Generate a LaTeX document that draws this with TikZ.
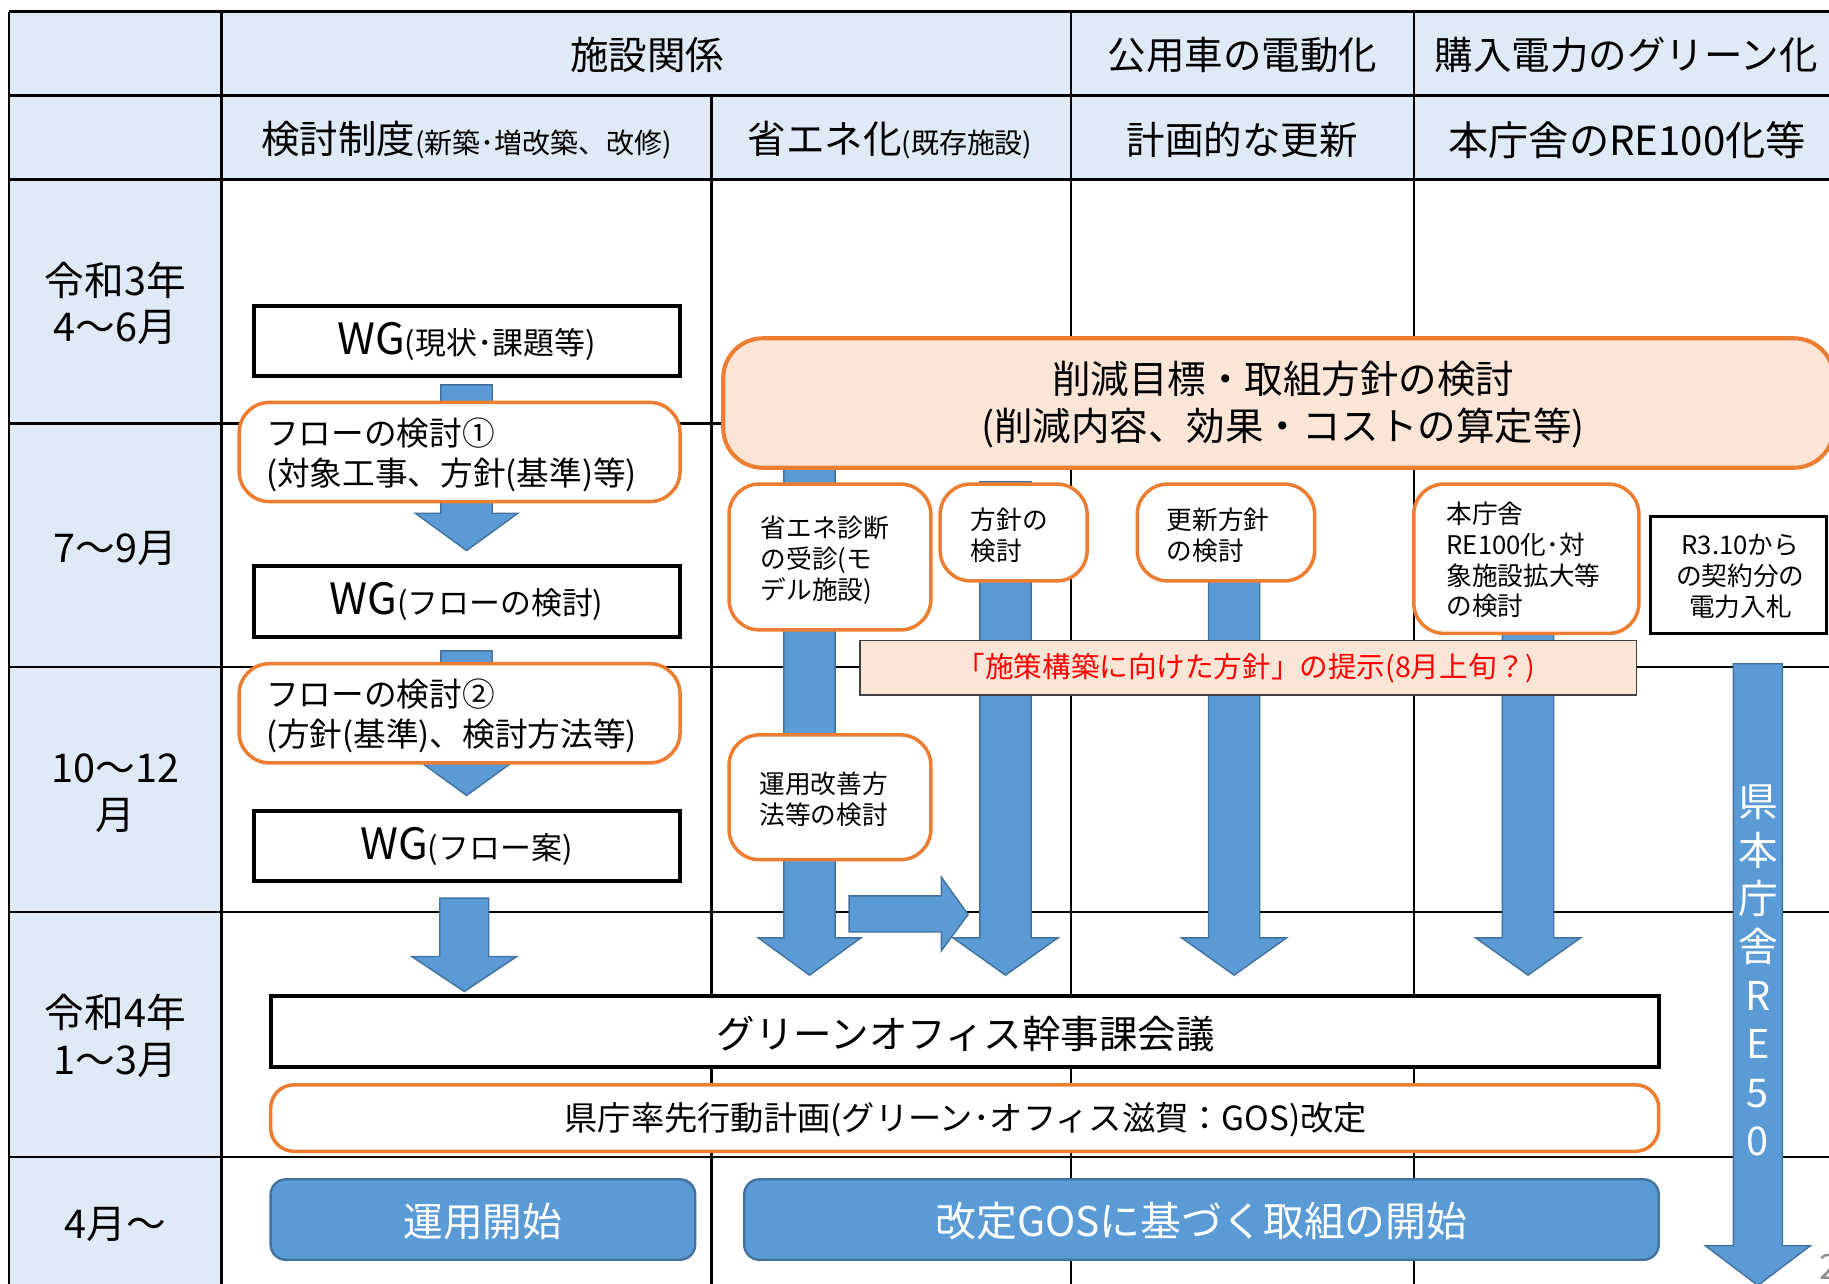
\documentclass[tikz,border=0pt]{standalone}
\usepackage{fontspec}
\setmainfont{Noto Sans CJK JP}
\usetikzlibrary{fit}
\definecolor{hdr}{RGB}{222,235,247}
\definecolor{orng}{RGB}{237,125,49}
\definecolor{peach}{RGB}{251,229,214}
\definecolor{abl}{RGB}{91,155,213}
\definecolor{abd}{RGB}{65,113,156}
\newcommand\blockdown[6]{\filldraw[arrowsty] ({#1-#5},{#2}) -- ({#1+#5},{#2}) -- ({#1+#5},{#3}) -- ({#1+#6},{#3}) -- ({#1},{#4}) -- ({#1-#6},{#3}) -- ({#1-#5},{#3}) -- cycle;}
\newcommand\fs[2]{\fontsize{#1}{#2}\selectfont}
\tikzset{
  tbl/.style={line width=2pt, draw=black},
  arrowsty/.style={fill=abl, draw=abd, line width=1.2pt},
  hd/.style={font=\fs{33}{40}, inner sep=0pt},
  rowlab/.style={font=\fs{34}{40}, inner sep=0pt, align=center},
  blackbox/.style={draw=black, line width=3.5pt, fill=white, inner sep=0pt},
  orbox/.style={draw=orng, line width=3pt, fill=white, rounded corners=26pt, inner sep=0pt},
  bigbox/.style={draw=orng, line width=3.5pt, fill=peach, rounded corners=34pt, inner sep=0pt},
  redbox/.style={draw=black!75, line width=1.5pt, fill=peach, inner sep=0pt},
  bluebar/.style={draw=abd, line width=2pt, fill=abl, rounded corners=13pt, inner sep=0pt},
  txt/.style={inner sep=0pt, align=left},
  small/.style={txt, font=\fs{22}{26.5}},
}
\begin{document}
\begin{tikzpicture}[x=1pt,y=-1pt]
\useasboundingbox (0,0) rectangle (1568,1100);
% table backgrounds
\fill[hdr] (8,10) rectangle (1640,154);
\fill[hdr] (8,154) rectangle (190,1130);
% table lines
\foreach \yy in {10,82,154,363,572,782,992} \draw[tbl] (8,\yy) -- (1640,\yy);
\foreach \xx in {8,190,918,1212} \draw[tbl] (\xx,10) -- (\xx,1130);
\draw[tbl] (610,82) -- (610,1130);
% header texts
\node[hd] (h1) at (555,47) {施設関係};
\node[hd] (h2) at (1065,47) {公用車の電動化};
\node[hd] (h3) at (1394,47) {購入電力のグリーン化};
\node[hd] (h4) at (400,120) {検討制度{\fs{24}{24}(新築･増改築、改修)}};
\node[hd] (h5) at (763,120) {省エネ化{\fs{24}{24}(既存施設)}};
\node[hd] (h6) at (1065,120) {計画的な更新};
\node[hd, font=\fs{34.5}{40}] (h7) at (1395,120) {本庁舎のRE100化等};
% row labels
\node[rowlab] (r1) at (99,260) {令和3年\\4～6月};
\node[rowlab] (r2) at (99,470) {7～9月};
\node[rowlab] (r3) at (99,680) {10～12\\月};
\node[rowlab] (r4) at (99,888) {令和4年\\1～3月};
\node[rowlab] (r5) at (99,1050) {4月～};
% arrows (behind boxes)
\blockdown{400}{330}{440}{472}{22}{44}
\blockdown{400}{558}{650}{682}{22}{44}
\blockdown{398}{770}{820}{850}{21}{45}
\blockdown{694}{400}{804}{836}{22}{44}
\blockdown{862}{413}{804}{836}{22}{45}
\blockdown{1058}{480}{804}{836}{22}{45}
\blockdown{1310}{500}{804}{836}{22}{45}
\blockdown{1507}{569}{1068}{1102}{21}{45}
\filldraw[arrowsty] (728,768) -- (807,768) -- (807,752) -- (830,784) -- (807,815) -- (807,799) -- (728,799) -- cycle;
% column 2 boxes
\node[blackbox, fit={(218,262) (583,322)}] (wg1) {};
\node[txt] (wg1t) at (400,293) {{\fs{37}{37}WG}{\fs{26.5}{26.5}(現状･課題等)}};
\node[orbox, fit={(205,345) (583,430)}] (fl1) {};
\node[txt, font=\fs{28}{34}, anchor=west] (fl1t) at (228,390) {フローの検討①\\(対象工事、方針(基準)等)};
\node[blackbox, fit={(218,485) (583,546)}] (wg2) {};
\node[txt] (wg2t) at (400,516) {{\fs{37}{37}WG}{\fs{26.5}{26.5}(フローの検討)}};
\node[orbox, fit={(205,569) (583,654)}] (fl2) {};
\node[txt, font=\fs{28}{34}, anchor=west] (fl2t) at (228,614) {フローの検討②\\(方針(基準)、検討方法等)};
\node[blackbox, fit={(218,695) (583,755)}] (wg3) {};
\node[txt] (wg3t) at (400,726) {{\fs{37}{37}WG}{\fs{26.5}{26.5}(フロー案)}};
% big box
\node[bigbox, fit={(620,290) (1572,401)}] (big) {};
\node[txt, align=center, font=\fs{33}{40}] (bigt) at (1100,347) {削減目標・取組方針の検討\\(削減内容、効果・コストの算定等)};
% small boxes
\node[orbox, fit={(625,415) (798,540)}] (sA) {};
\node[small, anchor=west] (sAt) at (652,480) {省エネ診断\\の受診(モ\\デル施設)};
\node[orbox, fit={(806,415) (932,498)}] (sB) {};
\node[small, anchor=west] (sBt) at (832,459) {方針の\\検討};
\node[orbox, fit={(975,415) (1127,498)}] (sC) {};
\node[small, anchor=west] (sCt) at (1000,459) {更新方針\\の検討};
\node[orbox, fit={(1212,415) (1405,543)}] (sD) {};
\node[small, anchor=west] (sDt) at (1240,480) {本庁舎\\RE100化･対\\象施設拡大等\\の検討};
\node[blackbox, line width=3pt, fit={(1415,443) (1566,543)}] (sE) {};
\node[small, align=center] (sEt) at (1492,494) {R3.10から\\の契約分の\\電力入札};
\node[orbox, fit={(625,630) (798,737)}] (sF) {};
\node[small, anchor=west] (sFt) at (651,685) {運用改善方\\法等の検討};
% red text box
\node[redbox, fit={(737,549) (1403,596)}] (rb) {};
\node[txt, text=red, font=\fs{24.5}{24.5}] (rbt) at (1068,573) {「施策構築に向けた方針」の提示(8月上旬？)};
% bottom boxes
\node[blackbox, fit={(232,854) (1422,915)}] (gm) {};
\node[txt, font=\fs{33}{33}] (gmt) at (828,886) {グリーンオフィス幹事課会議};
\node[orbox, rounded corners=20pt, fit={(232,930) (1422,987)}] (gos) {};
\node[txt, font=\fs{28.5}{28.5}] (gost) at (828,960) {県庁率先行動計画(グリーン･オフィス滋賀：GOS)改定};
\node[bluebar, fit={(232,1011) (596,1080)}] (b1) {};
\node[txt, text=white, font=\fs{34}{34}] (b1t) at (414,1047) {運用開始};
\node[bluebar, fit={(638,1011) (1422,1080)}] (b2) {};
\node[txt, text=white, font=\fs{35}{35}] (b2t) at (1030,1047) {改定GOSに基づく取組の開始};
% vertical text in long arrow
\node[txt, align=center, text=white, font=\fs{34}{41.5}] (re50) at (1507,832) {県\\本\\庁\\舎\\R\\E\\5\\0};
% page number (cut off at the edge, as in the reference)
\node[txt, text=black!45, font=\fs{30}{30}\itshape] (pg) at (1568,1086) {2};
\end{tikzpicture}
\end{document}
